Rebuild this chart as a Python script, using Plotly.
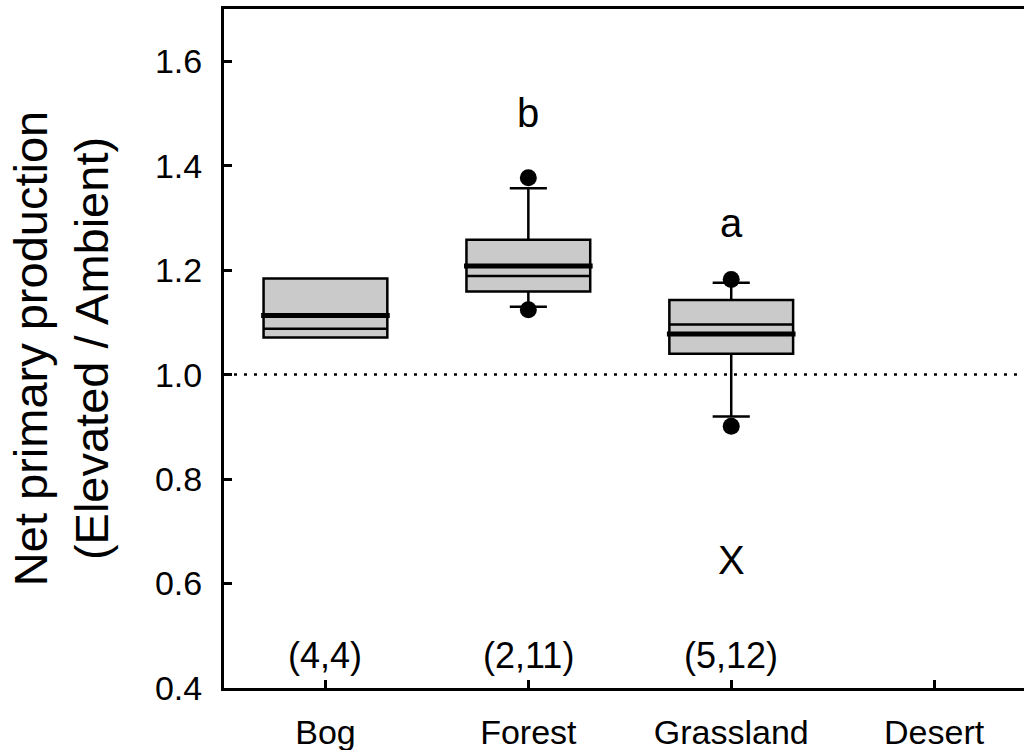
import plotly.graph_objects as go

# ---- data ----
categories = ["Bog", "Forest", "Grassland", "Desert"]
positions = [0, 1, 2, 3]

box_pos = [0, 1, 2]                      # Desert has no data
q1_vals = [1.071, 1.159, 1.040]
median_vals = [1.088, 1.189, 1.096]
q3_vals = [1.184, 1.258, 1.143]
mean_vals = [1.113, 1.208, 1.078]
lower_whisker = [1.071, 1.130, 0.920]
upper_whisker = [1.184, 1.357, 1.176]

outlier_pos = [1, 1, 2, 2]
outlier_vals = [1.124, 1.377, 0.901, 1.182]

sample_labels = ["(4,4)", "(2,11)", "(5,12)"]
sample_label_y = 0.463

letter_pos = [1, 2, 2]
letter_text = ["b", "a", "X"]
letter_y = [1.50, 1.29, 0.645]

reference_value = 1.0

FONT = "Arial, Liberation Sans, Helvetica, sans-serif"
BOX_W = 0.61

fig = go.Figure()

fig.add_trace(go.Box(
    x=box_pos, q1=q1_vals, median=median_vals, q3=q3_vals,
    lowerfence=lower_whisker, upperfence=upper_whisker,
    width=BOX_W, whiskerwidth=0.3, boxpoints=False,
    fillcolor="#cacaca", line=dict(color="black", width=2.5),
    hoverinfo="skip",
))

# thick mean lines
mx, my = [], []
half = BOX_W / 2 + 0.012
for p, m in zip(box_pos, mean_vals):
    mx += [p - half, p + half, None]
    my += [m, m, None]
fig.add_trace(go.Scatter(x=mx, y=my, mode="lines",
                         line=dict(color="black", width=5), hoverinfo="skip"))

# 5th / 95th percentile dots
fig.add_trace(go.Scatter(x=outlier_pos, y=outlier_vals, mode="markers",
                         marker=dict(color="black", size=17), hoverinfo="skip"))

# dotted reference line
fig.add_shape(type="line", xref="paper", x0=0, x1=1, yref="y",
              y0=reference_value, y1=reference_value, layer="below",
              line=dict(color="black", width=2.5, dash="3px,7px"))

for p, t in zip(box_pos, sample_labels):
    fig.add_annotation(x=p, y=sample_label_y, text=t, showarrow=False,
                       font=dict(family=FONT, size=36, color="black"),
                       xanchor="center", yanchor="middle")

for p, t, yv in zip(letter_pos, letter_text, letter_y):
    fig.add_annotation(x=p, y=yv, text=t, showarrow=False,
                       font=dict(family=FONT, size=40, color="black"),
                       xanchor="center", yanchor="middle")

fig.update_layout(
    width=1024, height=750,
    margin=dict(l=224, r=0, t=9, b=62, autoexpand=False),
    plot_bgcolor="white", paper_bgcolor="white",
    showlegend=False,
    font=dict(family=FONT, color="black"),
    xaxis=dict(
        range=[-0.5, 3.443], tickvals=positions, ticktext=categories,
        ticks="inside", ticklen=8, tickwidth=2.5, tickcolor="black",
        showline=True, linewidth=3, linecolor="black", mirror=True,
        showgrid=False, zeroline=False, automargin=False,
        tickfont=dict(family=FONT, size=34, color="black"),
        ticklabelstandoff=12,
    ),
    yaxis=dict(
        range=[0.4, 1.7], tickvals=[0.4, 0.6, 0.8, 1.0, 1.2, 1.4, 1.6],
        tickformat=".1f",
        ticks="inside", ticklen=8, tickwidth=2.5, tickcolor="black",
        showline=True, linewidth=3, linecolor="black", mirror=False,
        showgrid=False, zeroline=False, automargin=False,
        tickfont=dict(family=FONT, size=34, color="black"),
        ticklabelstandoff=12,
        title=dict(text="Net primary production<br>(Elevated / Ambient)",
                   font=dict(family=FONT, size=47, color="black"),
                   standoff=32),
    ),
)

fig.write_html(
    "out.html",
    config={"displayModeBar": False},
    post_script="document.body.style.margin='0';document.body.style.overflow='hidden';",
)
